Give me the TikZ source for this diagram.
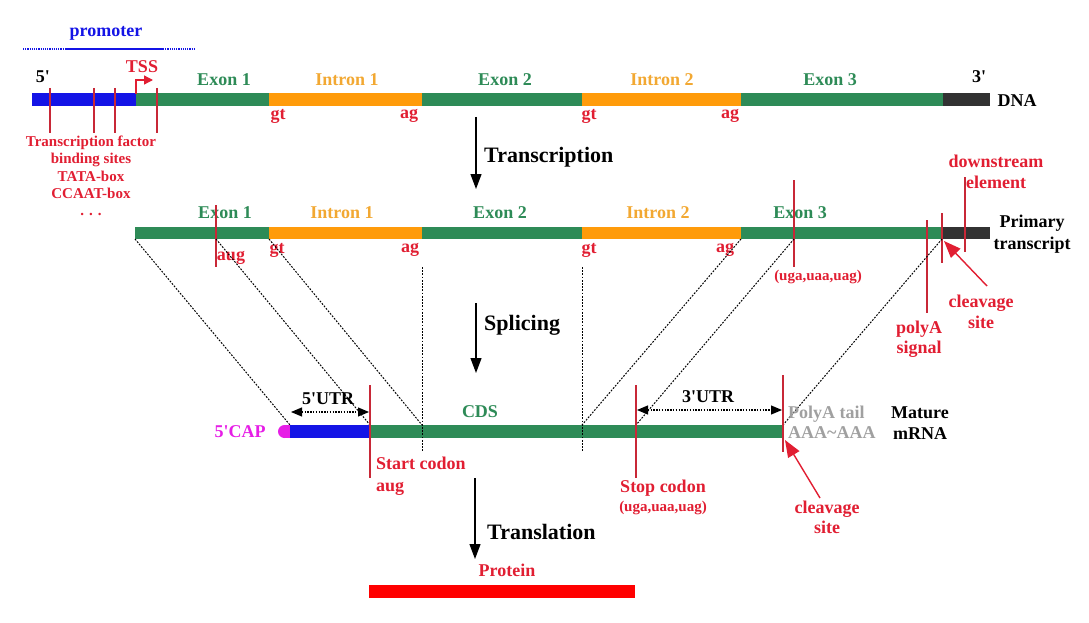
\documentclass[tikz,border=0pt]{standalone}
\usepackage{fontspec}
\setmainfont{Liberation Serif}[Ligatures=TeXOff]
\usetikzlibrary{arrows.meta}
\definecolor{exgreen}{RGB}{46,139,87}
\definecolor{inorange}{RGB}{255,155,10}
\definecolor{intxt}{RGB}{242,168,50}
\definecolor{dgray}{RGB}{50,50,50}
\definecolor{txtred}{RGB}{225,30,50}
\definecolor{tickred}{RGB}{200,40,55}
\definecolor{capmag}{RGB}{230,30,230}
\definecolor{tailgray}{RGB}{160,160,160}
\definecolor{promblue}{RGB}{20,20,230}
\tikzset{
  fs/.style={font=\bfseries\fontsize{#1}{#1}\selectfont},
  lbl/.style={inner sep=0pt, fs=18},
  exlbl/.style={lbl, text=exgreen},
  inlbl/.style={lbl, text=intxt},
  redlbl/.style={lbl, text=txtred},
  blklbl/.style={lbl, text=black},
  proclbl/.style={inner sep=0pt, font=\bfseries\fontsize{22}{22}\selectfont, anchor=west},
  ticklne/.style={draw=tickred, line width=1.3pt},
  splice/.style={draw=black, line width=1pt, dash pattern=on 1.8pt off 1.4pt},
  procarrow/.style={draw=black, line width=1.2pt, -{Triangle[length=15pt,width=11pt]}},
  utrarrow/.style={draw=black, line width=1.1pt, dash pattern=on 1.5pt off 1.3pt,
     {Triangle[length=11pt,width=9pt]}-{Triangle[length=11pt,width=9pt]}},
  cleavearrow/.style={draw=txtred, line width=1.4pt, -{Triangle[length=17pt,width=13pt]}},
}
\begin{document}
\begin{tikzpicture}[x=1pt,y=-1pt]
\useasboundingbox (0,0) rectangle (1089,623);

% ---------------- DNA ----------------
\fill[promblue] (32,93.5) rectangle (136,106.5);
\fill[exgreen] (136,93.5) rectangle (269,106.5);
\fill[inorange] (269,93.5) rectangle (422,106.5);
\fill[exgreen] (422,93.5) rectangle (582,106.5);
\fill[inorange] (582,93.5) rectangle (741,106.5);
\fill[exgreen] (741,93.5) rectangle (943,106.5);
\fill[dgray] (943,93.5) rectangle (990,106.5);

% promoter
\node[lbl, text=promblue] (prom) at (106,33) {promoter};
\draw[promblue, line width=1.2pt, dash pattern=on 1.2pt off 1pt] (23,49) -- (65,49);
\draw[promblue, line width=1.2pt] (65,49) -- (163,49);
\draw[promblue, line width=1.2pt, dash pattern=on 1.2pt off 1pt] (163,49) -- (195,49);

\node[blklbl] (five) at (43,77) {5'};
\node[blklbl] (three) at (979,77) {3'};
\node[blklbl] (dna) at (1017,101) {DNA};

% TSS
\node[redlbl] (tss) at (142,67) {TSS};
\coordinate (tssbase) at (136,94);
\coordinate (tsstip) at (153,80);
\draw[txtred, line width=1.3pt, -{Triangle[length=9pt,width=9pt]}] (tssbase) |- (tsstip);

% binding site ticks
\foreach \xx/\nm in {50/ta,94/tb,115/tc,157/td}{
  \coordinate (\nm1) at (\xx,88);
  \coordinate (\nm2) at (\xx,133);
  \draw[ticklne] (\nm1) -- (\nm2);
}
\node[inner sep=0pt, text=txtred, align=center,
      font=\bfseries\fontsize{15}{17.3}\selectfont] (tfbs) at (91,176)
  {Transcription factor\\binding sites\\TATA-box\\CCAAT-box\\. . .};

% DNA labels
\node[exlbl] (dex1) at (224,80) {Exon 1};
\node[inlbl] (din1) at (347,80) {Intron 1};
\node[exlbl] (dex2) at (505,80) {Exon 2};
\node[inlbl] (din2) at (662,80) {Intron 2};
\node[exlbl] (dex3) at (830,80) {Exon 3};
\node[redlbl] (dgt1) at (278,116) {gt};
\node[redlbl] (dag1) at (409,116) {ag};
\node[redlbl] (dgt2) at (589,116) {gt};
\node[redlbl] (dag2) at (730,116) {ag};

% Transcription
\coordinate (tr1) at (476,117);
\coordinate (tr2) at (476,189);
\draw[procarrow] (tr1) -- (tr2);
\node[proclbl] (transcr) at (484,157) {Transcription};

% ---------------- Primary transcript ----------------
\fill[exgreen] (135,227) rectangle (269,239);
\fill[inorange] (269,227) rectangle (422,239);
\fill[exgreen] (422,227) rectangle (582,239);
\fill[inorange] (582,227) rectangle (741,239);
\fill[exgreen] (741,227) rectangle (943,239);
\fill[dgray] (943,227) rectangle (990,239);

\node[exlbl] (pex1) at (225,213) {Exon 1};
\node[inlbl] (pin1) at (342,213) {Intron 1};
\node[exlbl] (pex2) at (500,213) {Exon 2};
\node[inlbl] (pin2) at (658,213) {Intron 2};
\node[exlbl] (pex3) at (800,213) {Exon 3};

\node[redlbl] (augp) at (231,258) {aug};
\node[redlbl] (pgt1) at (277,250) {gt};
\node[redlbl] (pag1) at (410,250) {ag};
\node[redlbl] (pgt2) at (589,250) {gt};
\node[redlbl] (pag2) at (725,250) {ag};
\node[inner sep=0pt, text=txtred, font=\bfseries\fontsize{15}{15}\selectfont] (stopp) at (818,277) {(uga,uaa,uag)};

% ticks on primary
\coordinate (augt1) at (216,205); \coordinate (augt2) at (216,267);
\draw[ticklne] (augt1) -- (augt2);
\coordinate (stt1) at (794,180); \coordinate (stt2) at (794,267);
\draw[ticklne] (stt1) -- (stt2);
\coordinate (pat1) at (927,220); \coordinate (pat2) at (927,313);
\draw[ticklne] (pat1) -- (pat2);
\coordinate (clt1) at (942,213); \coordinate (clt2) at (942,263);
\draw[ticklne] (clt1) -- (clt2);
\coordinate (dst1) at (965,177); \coordinate (dst2) at (965,252);
\draw[ticklne] (dst1) -- (dst2);

\node[redlbl, align=center, font=\bfseries\fontsize{18}{21}\selectfont] (downel) at (996,172) {downstream\\element};
\node[redlbl, align=center, font=\bfseries\fontsize{18}{20}\selectfont] (polyas) at (919,339) {polyA\\signal};
\node[redlbl, align=center, font=\bfseries\fontsize{18}{21}\selectfont] (cleav1) at (981,312) {cleavage\\site};
\coordinate (cl1from) at (987,286);
\coordinate (cl1to) at (944,241);
\draw[cleavearrow] (cl1from) -- (cl1to);
\node[blklbl, align=center, font=\bfseries\fontsize{18}{22}\selectfont] (primtr) at (1032,234) {Primary\\transcript};

% Splicing
\coordinate (sp1) at (476,303);
\coordinate (sp2) at (476,373);
\draw[procarrow] (sp1) -- (sp2);
\node[proclbl] (splic) at (484,325) {Splicing};

% ---------------- Mature mRNA ----------------
\fill[capmag] (284.5,431.5) circle (6.5);
\fill[capmag] (284.5,425) rectangle (290,438);
\fill[promblue] (290,425) rectangle (370,438);
\fill[exgreen] (370,425) rectangle (783,438);
\node[lbl, text=capmag] (cap) at (240,432) {5'CAP};
\node[exlbl] (cds) at (480,412) {CDS};

% splice mapping lines
\coordinate (pA) at (135,239);  \coordinate (mA) at (290,425);
\coordinate (pB) at (216,239);  \coordinate (mB) at (370,425);
\coordinate (pC) at (269,239);  \coordinate (mC) at (422,425);
\coordinate (vC1) at (422,267); \coordinate (vC2) at (422,452);
\coordinate (vD1) at (582,267); \coordinate (vD2) at (582,452);
\coordinate (pE) at (741,239);  \coordinate (mE) at (582,425);
\coordinate (pF) at (794,239);  \coordinate (mF) at (636,425);
\coordinate (pG) at (942,239);  \coordinate (mG) at (783,425);
\draw[splice] (pA) -- (mA);
\draw[splice] (pB) -- (mB);
\draw[splice] (pC) -- (mC);
\draw[splice] (vC1) -- (vC2);
\draw[splice] (vD1) -- (vD2);
\draw[splice] (pE) -- (mE);
\draw[splice] (pF) -- (mF);
\draw[splice] (pG) -- (mG);

% ticks on mRNA
\coordinate (sct1) at (370,385); \coordinate (sct2) at (370,478);
\draw[ticklne] (sct1) -- (sct2);
\coordinate (spt1) at (636,385); \coordinate (spt2) at (636,478);
\draw[ticklne] (spt1) -- (spt2);
\coordinate (mct1) at (783,375); \coordinate (mct2) at (783,452);
\draw[ticklne] (mct1) -- (mct2);

% UTR arrows
\coordinate (u5a) at (291,412); \coordinate (u5b) at (369,412);
\draw[utrarrow] (u5a) -- (u5b);
\node[blklbl] (utr5) at (328,399) {5'UTR};
\coordinate (u3a) at (637,410); \coordinate (u3b) at (782,410);
\draw[utrarrow] (u3a) -- (u3b);
\node[blklbl] (utr3) at (708,397) {3'UTR};

\node[lbl, text=tailgray, align=left, anchor=west, font=\bfseries\fontsize{18}{20}\selectfont] (ptail) at (788,422) {PolyA tail\\AAA\char`~AAA};
\node[blklbl, align=center, font=\bfseries\fontsize{18}{21}\selectfont] (mature) at (920,423) {Mature\\mRNA};

\node[redlbl, align=left, anchor=west, font=\bfseries\fontsize{18}{22}\selectfont] (startc) at (376,476) {Start codon\\aug};
\node[redlbl] (stopc) at (663,488) {Stop codon};
\node[inner sep=0pt, text=txtred, font=\bfseries\fontsize{15}{15}\selectfont] (stopm) at (663,508) {(uga,uaa,uag)};
\node[redlbl, align=center, font=\bfseries\fontsize{18}{20}\selectfont] (cleav2) at (827,517) {cleavage\\site};
\coordinate (cl2from) at (820,498);
\coordinate (cl2to) at (785,440);
\draw[cleavearrow] (cl2from) -- (cl2to);

% Translation
\coordinate (tl1) at (475,478);
\coordinate (tl2) at (475,559);
\draw[procarrow] (tl1) -- (tl2);
\node[proclbl] (transl) at (487,532) {Translation};

% Protein
\node[redlbl] (protlbl) at (507,570) {Protein};
\fill[red] (369,585) rectangle (635,598);
\end{tikzpicture}
\end{document}
